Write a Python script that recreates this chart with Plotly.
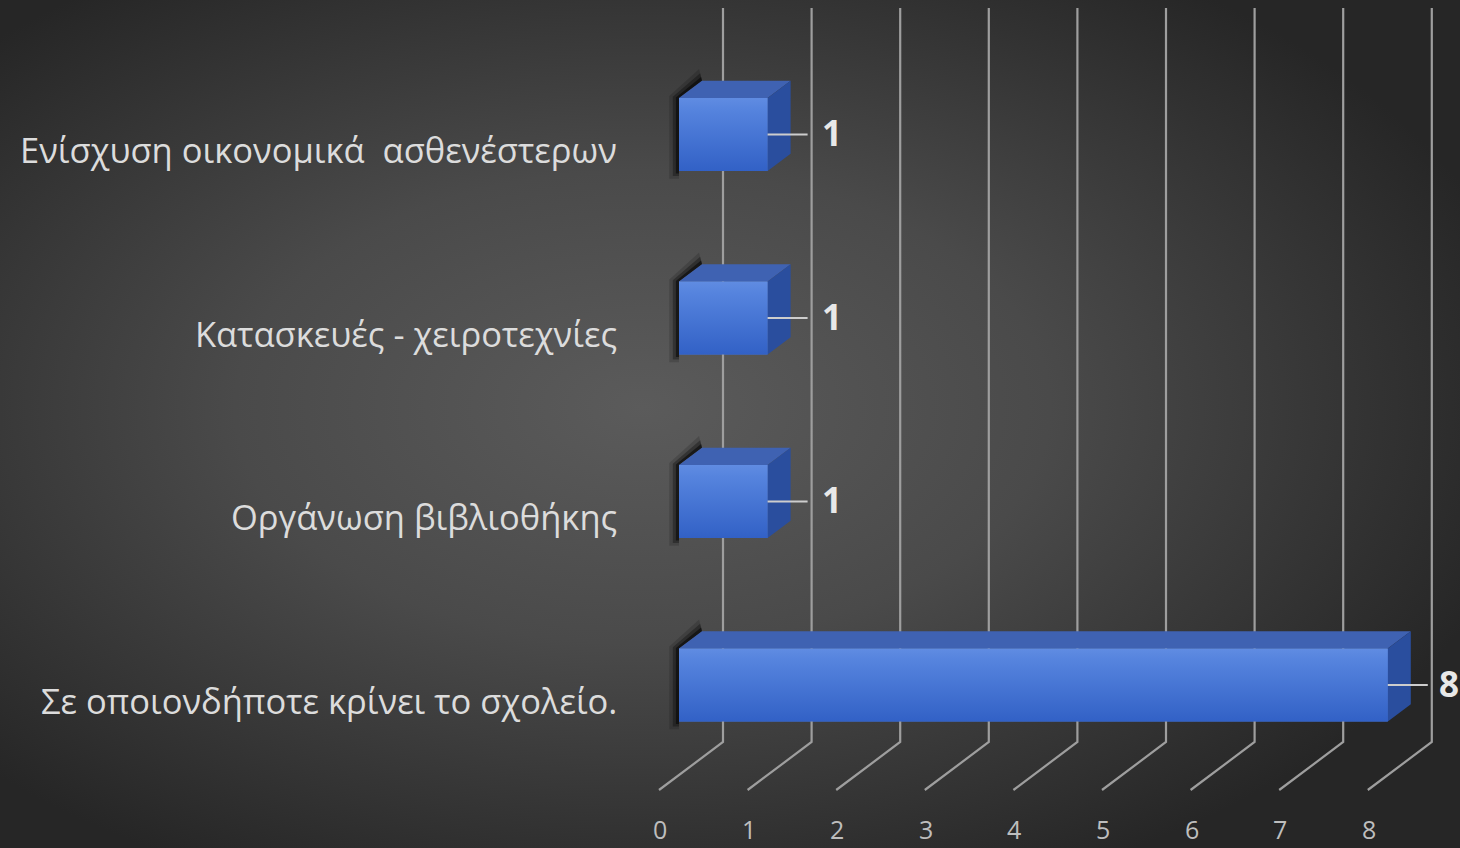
import base64
import plotly.graph_objects as go

# ---------------- data ----------------
categories = [
    "Σε οποιονδήποτε κρίνει το σχολείο.",
    "Οργάνωση βιβλιοθήκης",
    "Κατασκευές - χειροτεχνίες",
    "Ενίσχυση οικονομικά  ασθενέστερων",
]
values = [8, 1, 1, 1]
tick_values = [0, 1, 2, 3, 4, 5, 6, 7, 8]
tick_labels = ["0", "1", "2", "3", "4", "5", "6", "7", "8"]

# ---------------- geometry (pseudo-3D projection) ----------------
W, H = 1460, 848
PX_X0, PX_PER_X = 659.0, 88.6      # value 0 at floor front
PX_Y0, PX_PER_Y = 700.0, 183.5     # category slot spacing
xr = [-PX_X0 / PX_PER_X, (W - PX_X0) / PX_PER_X]
yr = [(PX_Y0 - H) / PX_PER_Y, PX_Y0 / PX_PER_Y]

DX = 64 / PX_PER_X     # depth vector (z: 0 front -> 1 back wall)
DY = 48 / PX_PER_Y
Z0, Z1 = 0.3125, 0.672  # bar front / back depth
HB = 36.5 / PX_PER_Y    # bar half height
FLOOR_Y = (PX_Y0 - 790) / PX_PER_Y
WALL_TOP = (PX_Y0 - 8) / PX_PER_Y
TICK_Y = (PX_Y0 - 829) / PX_PER_Y

fig = go.Figure()

# gridlines: back wall verticals + floor diagonals
for v in tick_values:
    fig.add_trace(go.Scatter(
        x=[v, v + DX, v + DX], y=[FLOOR_Y, FLOOR_Y + DY, WALL_TOP],
        mode="lines", line=dict(color="rgb(158,158,158)", width=2.2),
        hoverinfo="skip", showlegend=False))

# bars
for i, (cat, val) in enumerate(zip(categories, values)):
    yc = i + Z0 * DY
    yb0, yt0 = yc - HB, yc + HB
    yb1, yt1 = yb0 + (Z1 - Z0) * DY, yt0 + (Z1 - Z0) * DY
    xf0, xf1 = Z0 * DX, val + Z0 * DX
    xb0, xb1 = Z1 * DX, val + Z1 * DX
    # soft shadow to the upper-left
    for s, a in [(0.11, 0.15), (0.07, 0.3), (0.035, 0.5)]:
        sy = s * PX_PER_X / PX_PER_Y
        fig.add_trace(go.Scatter(
            x=[xf0, xf0 - s, xf0 - s, xb0 - s * 0.3, xb0, xf0],
            y=[yb0 - sy * 0.8, yb0 - sy * 0.8, yt0 + sy * 0.2, yt1 + sy * 1.2, yt1, yt0],
            fill="toself", fillcolor=f"rgba(0,0,0,{a})", line=dict(width=0),
            mode="lines", hoverinfo="skip", showlegend=False))
    # top face
    fig.add_trace(go.Scatter(
        x=[xf0, xf1, xb1, xb0, xf0], y=[yt0, yt0, yt1, yt1, yt0],
        fill="toself", fillcolor="rgb(63,98,178)", line=dict(width=0),
        mode="lines", hoverinfo="skip", showlegend=False))
    # side face
    fig.add_trace(go.Scatter(
        x=[xf1, xf1, xb1, xb1, xf1], y=[yb0, yt0, yt1, yb1, yb0],
        fill="toself", fillcolor="rgb(42,78,158)", line=dict(width=0),
        mode="lines", hoverinfo="skip", showlegend=False))

# front faces as real bars
fig.add_trace(go.Bar(
    y=[i + Z0 * DY for i in range(len(categories))], x=values,
    base=Z0 * DX, orientation="h", width=2 * HB,
    marker=dict(color="rgb(70,116,210)", line=dict(width=0)),
    customdata=categories, hovertemplate="%{customdata}: %{x}<extra></extra>",
    showlegend=False))
# gradient overlay on front faces
for i, val in enumerate(values):
    yc = i + Z0 * DY
    xf0, xf1 = Z0 * DX, val + Z0 * DX
    fig.add_trace(go.Scatter(
        x=[xf0, xf1, xf1, xf0, xf0], y=[yc - HB, yc - HB, yc + HB, yc + HB, yc - HB],
        fill="toself", line=dict(width=0), mode="lines",
        fillgradient=dict(type="vertical",
                          colorscale=[[0, "rgb(50,97,198)"], [0.85, "rgb(86,132,222)"],
                                      [1, "rgb(96,140,226)"]]),
        hoverinfo="skip", showlegend=False))
    # data label leader line
    fig.add_trace(go.Scatter(
        x=[xf1, xf1 + 40 / PX_PER_X], y=[yc, yc], mode="lines",
        line=dict(color="rgb(205,205,205)", width=2),
        hoverinfo="skip", showlegend=False))
    fig.add_annotation(x=xf1 + 40 / PX_PER_X, y=yc + 2 / PX_PER_Y, text=str(val),
                       xanchor="left", yanchor="middle", xshift=9 if val >= 8 else 12,
                       showarrow=False,
                       font=dict(family="Open Sans", size=35, color="rgb(232,232,232)",
                                 weight="bold"))

# category labels
for i, cat in enumerate(categories):
    fig.add_annotation(x=(619 - PX_X0) / PX_PER_X, y=i, text=cat, xanchor="right",
                       yanchor="middle", showarrow=False,
                       font=dict(family="Open Sans", size=34.5, color="rgb(220,220,220)"))

# value axis tick labels (front floor edge)
for v, t in zip(tick_values, tick_labels):
    fig.add_annotation(x=v + 1 / PX_PER_X, y=TICK_Y, text=t, xanchor="center",
                       yanchor="middle", showarrow=False,
                       font=dict(family="Open Sans", size=25, color="rgb(190,190,190)"))

# background radial gradient
svg = f"""<svg xmlns='http://www.w3.org/2000/svg' width='{W}' height='{H}' viewBox='0 0 {W} {H}' preserveAspectRatio='none'>
<defs><radialGradient id='g' cx='0.44' cy='0.48' r='0.62'>
<stop offset='0' stop-color='#5b5b5b'/><stop offset='0.45' stop-color='#4a4a4a'/>
<stop offset='1' stop-color='#262626'/></radialGradient></defs>
<rect width='{W}' height='{H}' fill='url(#g)'/></svg>"""
src = "data:image/svg+xml;base64," + base64.b64encode(svg.encode()).decode()
fig.add_layout_image(dict(source=src, xref="paper", yref="paper", x=0, y=1,
                          sizex=1, sizey=1, sizing="stretch", layer="below",
                          xanchor="left", yanchor="top"))

fig.update_layout(
    width=W, height=H, margin=dict(l=0, r=0, t=0, b=0),
    paper_bgcolor="#3c3c3c", plot_bgcolor="rgba(0,0,0,0)",
    xaxis=dict(range=xr, visible=False, fixedrange=True),
    yaxis=dict(range=yr, visible=False, fixedrange=True),
    barmode="overlay", showlegend=False,
)
fig.write_html("out.html", config={"displayModeBar": False},
               post_script="document.body.style.margin='0';document.body.style.background='#262626';")
